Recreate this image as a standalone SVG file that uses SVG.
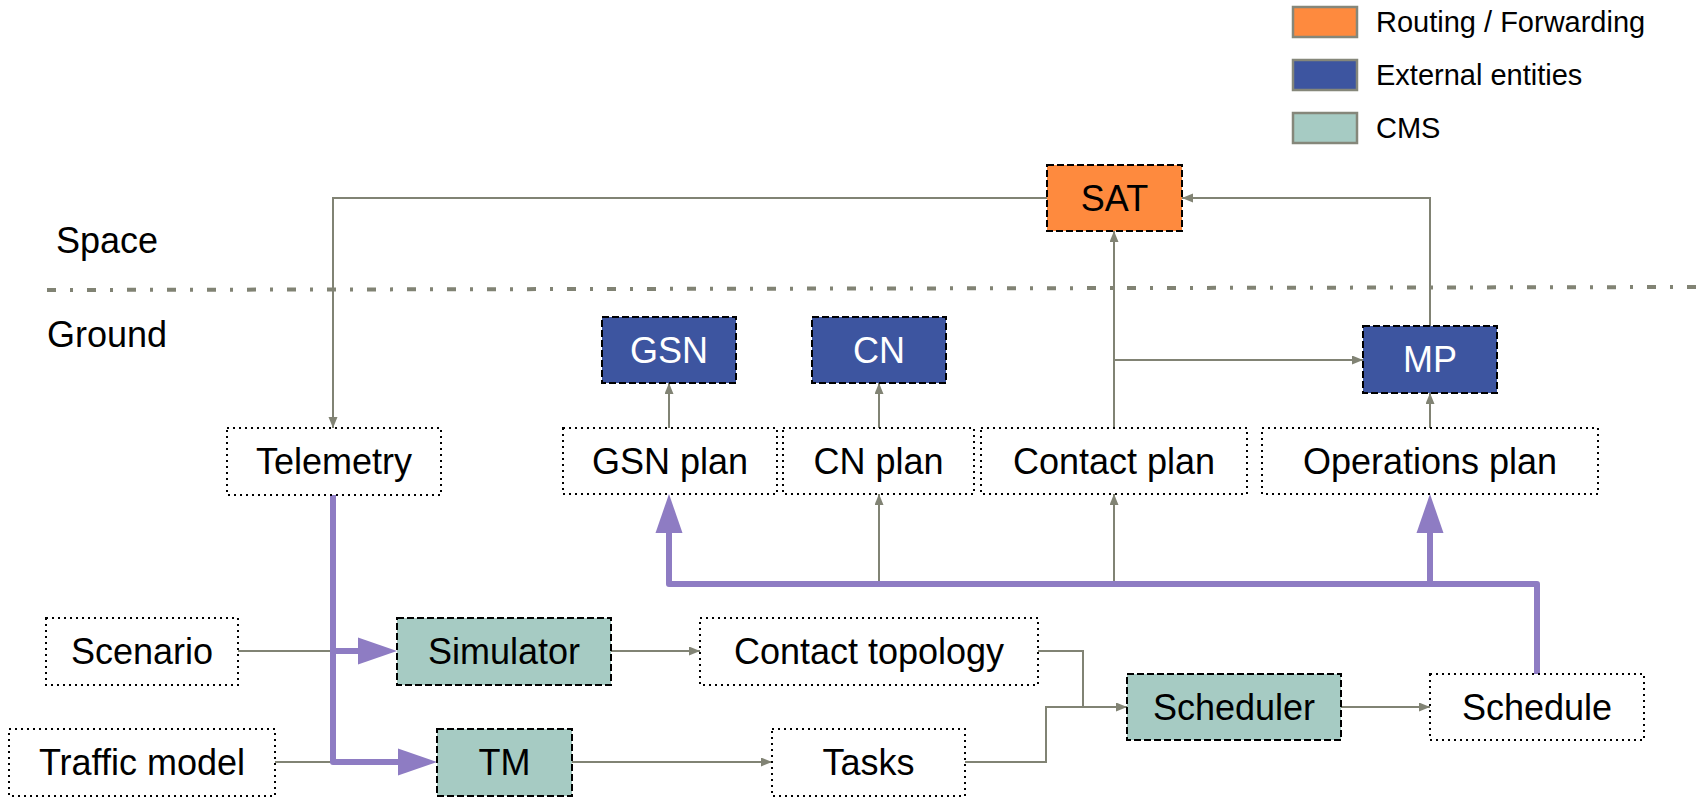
<svg xmlns="http://www.w3.org/2000/svg" width="1696" height="798" viewBox="0 0 1696 798">
<style>
  text { font-family: "Liberation Sans", Arial, sans-serif; fill: #000; }
  .t { font-size: 36px; text-anchor: middle; }
  .w { fill: #fff; }
  .lg { font-size: 29px; }
  .side { font-size: 36px; }
  .dot { fill: #fff; stroke: #000; stroke-width: 2; stroke-dasharray: 2 4; }
  .sat { fill: #fe8a3e; stroke: #000; stroke-width: 2; stroke-dasharray: 7 3; }
  .ext { fill: #3d55a0; stroke: #000; stroke-width: 2; stroke-dasharray: 7 3; }
  .cms { fill: #a6cbc3; stroke: #000; stroke-width: 2; stroke-dasharray: 7 3; }
  .sw { stroke: #85877a; stroke-width: 2.5; }
  .g { fill: none; stroke: #818374; stroke-width: 2; }
  .p { fill: none; stroke: #8e7cc3; stroke-width: 6; stroke-linejoin: round; }
</style>
<defs>
  <marker id="ga" markerUnits="userSpaceOnUse" markerWidth="12" markerHeight="10" refX="11" refY="4.5" orient="auto">
    <path d="M0,0 L11,4.5 L0,9 z" fill="#818374"/>
  </marker>
  <marker id="pa" markerUnits="userSpaceOnUse" markerWidth="40" markerHeight="28" refX="0" refY="13.5" orient="auto" overflow="visible">
    <path d="M0,0 L39,13.5 L0,27 z" fill="#8e7cc3"/>
  </marker>
</defs>

<g id="legend">
  <rect class="sw" x="1293" y="7" width="64" height="30" fill="#fe8a3e"/>
  <text class="lg" x="1376" y="32">Routing / Forwarding</text>
  <rect class="sw" x="1293" y="60" width="64" height="30" fill="#3d55a0"/>
  <text class="lg" x="1376" y="85">External entities</text>
  <rect class="sw" x="1293" y="113" width="64" height="30" fill="#a6cbc3"/>
  <text class="lg" x="1376" y="138">CMS</text>
</g>

<g id="regions">
  <text class="side" x="56" y="253">Space</text>
  <text class="side" x="47" y="347">Ground</text>
  <line x1="47" y1="290" x2="1696" y2="287" stroke="#818374" stroke-width="4" stroke-dasharray="9 14 3 14"/>
</g>

<g id="connectors">
  <!-- SAT to Telemetry -->
  <path class="g" d="M1047,198 H333 V428" marker-end="url(#ga)"/>
  <!-- Contact plan to SAT and MP -->
  <path class="g" d="M1114,428 V231" marker-end="url(#ga)"/>
  <path class="g" d="M1114,360 H1363" marker-end="url(#ga)"/>
  <!-- MP to SAT -->
  <path class="g" d="M1430,326 V198 H1182" marker-end="url(#ga)"/>
  <!-- plans to external entities -->
  <path class="g" d="M669,428 V383" marker-end="url(#ga)"/>
  <path class="g" d="M879,428 V383" marker-end="url(#ga)"/>
  <path class="g" d="M1430,428 V393" marker-end="url(#ga)"/>
  <!-- schedule bus to plans (gray) -->
  <path class="g" d="M879,584 V494" marker-end="url(#ga)"/>
  <path class="g" d="M1114,584 V494" marker-end="url(#ga)"/>
  <!-- inputs -->
  <path class="g" d="M238,651 H333"/>
  <path class="g" d="M275,762 H333"/>
  <path class="g" d="M611,651 H700" marker-end="url(#ga)"/>
  <path class="g" d="M572,762 H772" marker-end="url(#ga)"/>
  <path class="g" d="M1038,651 H1083 V707"/>
  <path class="g" d="M965,762 H1046 V707 H1127" marker-end="url(#ga)"/>
  <path class="g" d="M1341,707 H1430" marker-end="url(#ga)"/>
  <!-- purple flows -->
  <path class="p" d="M333,495 V762 H398" marker-end="url(#pa)"/>
  <path class="p" d="M333,651 H358" marker-end="url(#pa)"/>
  <path class="p" d="M1537,674 V584 H669 V533" marker-end="url(#pa)"/>
  <path class="p" d="M1430,584 V533" marker-end="url(#pa)"/>
</g>

<g id="sat"><rect class="sat" x="1047" y="165" width="135" height="66"/><text class="t" x="1114.5" y="211">SAT</text></g>
<g id="gsn"><rect class="ext" x="602" y="317" width="134" height="66"/><text class="t w" x="669" y="363">GSN</text></g>
<g id="cn"><rect class="ext" x="812" y="317" width="134" height="66"/><text class="t w" x="879" y="363">CN</text></g>
<g id="mp"><rect class="ext" x="1363" y="326" width="134" height="67"/><text class="t w" x="1430" y="372">MP</text></g>

<g id="telemetry"><rect class="dot" x="227" y="428" width="214" height="67"/><text class="t" x="334" y="474">Telemetry</text></g>
<g id="gsn-plan"><rect class="dot" x="563" y="428" width="214" height="66"/><text class="t" x="670" y="474">GSN plan</text></g>
<g id="cn-plan"><rect class="dot" x="783" y="428" width="191" height="66"/><text class="t" x="878.5" y="474">CN plan</text></g>
<g id="contact-plan"><rect class="dot" x="981" y="428" width="266" height="66"/><text class="t" x="1114" y="474">Contact plan</text></g>
<g id="operations-plan"><rect class="dot" x="1262" y="428" width="336" height="66"/><text class="t" x="1430" y="474">Operations plan</text></g>

<g id="scenario"><rect class="dot" x="46" y="618" width="192" height="67"/><text class="t" x="142" y="664">Scenario</text></g>
<g id="simulator"><rect class="cms" x="397" y="618" width="214" height="67"/><text class="t" x="504" y="664">Simulator</text></g>
<g id="contact-topology"><rect class="dot" x="700" y="618" width="338" height="67"/><text class="t" x="869" y="664">Contact topology</text></g>
<g id="traffic-model"><rect class="dot" x="9" y="729" width="266" height="67"/><text class="t" x="142" y="775">Traffic model</text></g>
<g id="tm"><rect class="cms" x="437" y="729" width="135" height="67"/><text class="t" x="504.5" y="775">TM</text></g>
<g id="tasks"><rect class="dot" x="772" y="729" width="193" height="67"/><text class="t" x="868.5" y="775">Tasks</text></g>
<g id="scheduler"><rect class="cms" x="1127" y="674" width="214" height="66"/><text class="t" x="1234" y="720">Scheduler</text></g>
<g id="schedule"><rect class="dot" x="1430" y="674" width="214" height="66"/><text class="t" x="1537" y="720">Schedule</text></g>
</svg>
